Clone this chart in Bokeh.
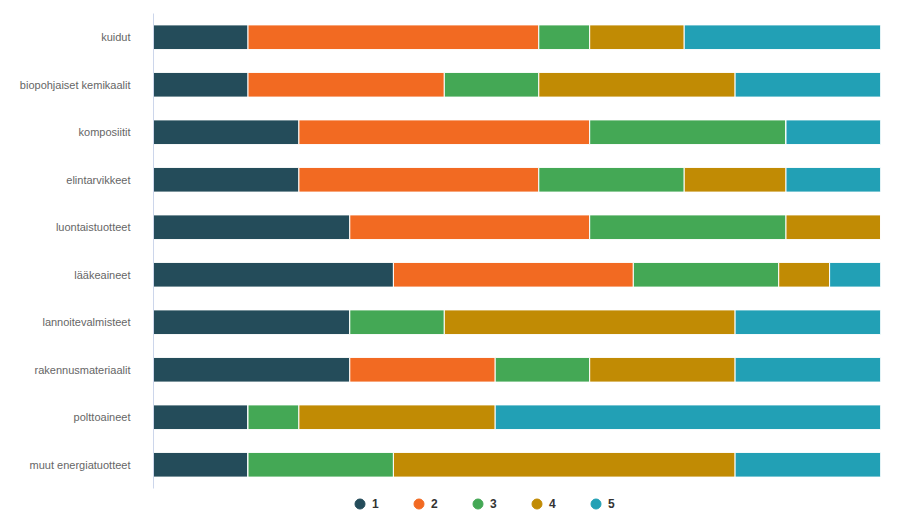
from bokeh.plotting import figure
from bokeh.layouts import column
from bokeh.models import ColumnDataSource, FactorRange, Range1d, Legend, LegendItem
from bokeh.embed import file_html
from bokeh.resources import INLINE

categories = ["kuidut", "biopohjaiset kemikaalit", "komposiitit", "elintarvikkeet",
              "luontaistuotteet", "lääkeaineet", "lannoitevalmisteet",
              "rakennusmateriaalit", "polttoaineet", "muut energiatuotteet"]
s1 = [13, 13, 20, 20, 27, 33, 27, 27, 13, 13]
s2 = [40, 27, 40, 33, 33, 33, 0, 20, 0, 0]
s3 = [7, 13, 27, 20, 27, 20, 13, 13, 7, 20]
s4 = [13, 27, 0, 14, 13, 7, 40, 20, 27, 47]
s5 = [27, 20, 13, 13, 0, 7, 20, 20, 53, 20]
series = ["1", "2", "3", "4", "5"]
colors = ["#244C5A", "#F26A22", "#44A855", "#C18B04", "#22A0B5"]

source = ColumnDataSource(dict(cat=categories, **{"1": s1, "2": s2, "3": s3, "4": s4, "5": s5}))

p = figure(width=903, height=491, output_backend="svg", toolbar_location=None,
           y_range=FactorRange(*categories[::-1], range_padding=0),
           x_range=Range1d(0, 100))
p.min_border_left = 153
p.min_border_right = 23
p.min_border_top = 13
p.min_border_bottom = 3
p.outline_line_color = None
p.xgrid.visible = False
p.ygrid.visible = False
p.xaxis.visible = False

ax = p.yaxis[0]
ax.axis_line_color = "#ccd6eb"
ax.major_tick_line_color = None
ax.minor_tick_line_color = None
ax.major_tick_out = 0
ax.major_label_standoff = 23
ax.major_label_text_color = "#666666"
ax.major_label_text_font = "Liberation Sans"
ax.major_label_text_font_size = "11px"

p.hbar_stack(series, y="cat", height=0.52, color=colors, source=source,
             line_color="white", line_width=1)

# legend row (proxy glyphs sit outside the visible range of this strip)
lg = figure(width=903, height=25, output_backend="svg", toolbar_location=None,
            x_range=Range1d(0, 1), y_range=Range1d(0, 1),
            x_axis_type=None, y_axis_type=None)
lg.min_border_left = 0
lg.min_border_right = 0
lg.min_border_top = 0
lg.min_border_bottom = 0
lg.outline_line_color = None
lg.xgrid.visible = False
lg.ygrid.visible = False

items = []
for s, c in zip(series, colors):
    r = lg.scatter(x=[5], y=[5], marker="circle", size=10, fill_color=c, line_color=c)
    items.append(LegendItem(label=s, renderers=[r]))

legend = Legend(items=items, orientation="horizontal", location=(194, 0),
                glyph_width=25, glyph_height=25, label_standoff=-1, spacing=14,
                label_width=20, padding=0, margin=0,
                border_line_alpha=0, background_fill_alpha=0,
                label_text_font="Liberation Sans", label_text_font_size="12px",
                label_text_font_style="bold", label_text_color="#333333")
lg.add_layout(legend, "center")

layout = column(p, lg, spacing=0)
open("out.html", "w").write(file_html(layout, INLINE))
